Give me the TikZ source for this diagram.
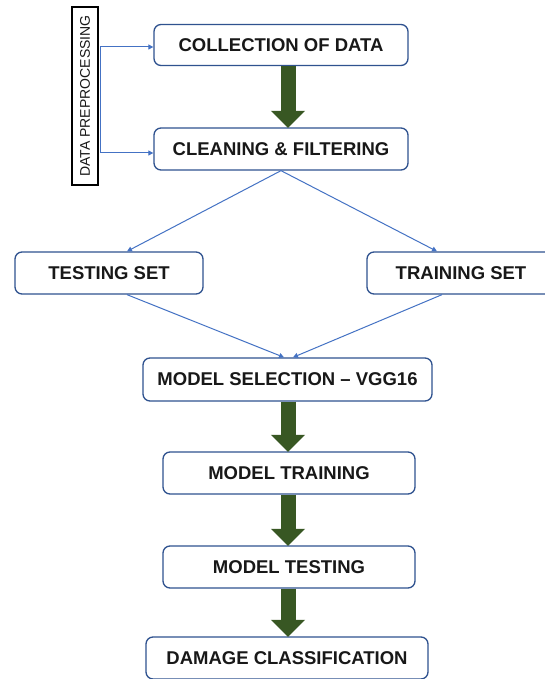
\documentclass[tikz,border=0pt]{standalone}
\usepackage{fontspec}
\setmainfont{Liberation Sans}
\usetikzlibrary{arrows.meta,calc}

\definecolor{boxline}{RGB}{47,82,143}
\definecolor{flowblue}{RGB}{68,114,196}
\definecolor{stepgreen}{RGB}{56,87,35}
\definecolor{inktext}{RGB}{24,24,24}

\tikzset{
  stepbox/.style={draw=boxline, line width=1.3pt, rounded corners=7pt, fill=white,
    text=inktext, font=\fontsize{18.5}{20}\selectfont\bfseries, inner sep=0pt},
  sidelabel/.style={draw=black, line width=1.3pt, fill=white, text=inktext,
    font=\fontsize{14}{15}\selectfont, inner sep=0pt, rotate=90},
  thinflow/.style={draw=flowblue, line width=1pt, -{Triangle[length=5pt,width=5pt]}},
  bigflow/.style={draw=stepgreen, line width=15pt, -{Triangle[length=17pt,width=33pt]}, shorten >=-0.5pt},
}

\begin{document}
\begin{tikzpicture}[x=1pt, y=-1pt]
  \useasboundingbox (0,0) rectangle (545,679);
  \clip (0,0) rectangle (545,679);
  \fill[white] (0,0) rectangle (545,679);

  % process steps
  \node[stepbox, minimum width=254pt, minimum height=41pt] (coll)   at (281,45)    {COLLECTION OF DATA};
  \node[stepbox, minimum width=254pt, minimum height=42pt] (clean)  at (281,149)   {CLEANING \& FILTERING};
  \node[stepbox, minimum width=188pt, minimum height=42pt] (test)   at (109,273)   {TESTING SET};
  \node[stepbox, minimum width=188pt, minimum height=42pt] (train)  at (461,273)   {TRAINING SET};
  \node[stepbox, minimum width=289pt, minimum height=43pt] (sel)    at (287.5,379.5) {MODEL SELECTION -- VGG16};
  \node[stepbox, minimum width=252pt, minimum height=42pt] (mtrain) at (289,473)   {MODEL TRAINING};
  \node[stepbox, minimum width=252pt, minimum height=42pt] (mtest)  at (289,567)   {MODEL TESTING};
  \node[stepbox, minimum width=282pt, minimum height=42pt] (dmg)    at (287,658)   {DAMAGE CLASSIFICATION};

  % vertical label for the first phase
  \node[sidelabel, minimum width=178pt, minimum height=26pt] (prep) at (85,96) {DATA PREPROCESSING};

  % bracket from the label to the first two steps
  \coordinate (brx) at (100,0);
  \coordinate (bt) at ([yshift=-2pt]coll.west -| brx);
  \coordinate (bb) at ([yshift=-4pt]clean.west -| brx);
  \draw[flowblue, line width=1pt] (bt) -- (bb);
  \draw[thinflow] (bt) -- ([yshift=-2pt]coll.west);
  \draw[thinflow] (bb) -- ([yshift=-4pt]clean.west);

  % split into the two data sets and merge again
  \draw[thinflow] (clean.south) -- ([xshift=18pt]test.north);
  \draw[thinflow] (clean.south) -- ([xshift=-24pt]train.north);
  \draw[thinflow] ([xshift=18pt]test.south) -- ([xshift=-3.5pt]sel.north);
  \draw[thinflow] ([xshift=-19pt]train.south) -- ([xshift=5.5pt]sel.north);

  % block arrows along the main line
  \coordinate (ax) at (288,0);
  \draw[bigflow] (coll.south -| ax) -- (clean.north -| ax);
  \draw[bigflow] (sel.south -| ax) -- (mtrain.north -| ax);
  \draw[bigflow] (mtrain.south -| ax) -- (mtest.north -| ax);
  \draw[bigflow] (mtest.south -| ax) -- (dmg.north -| ax);
\end{tikzpicture}
\end{document}
